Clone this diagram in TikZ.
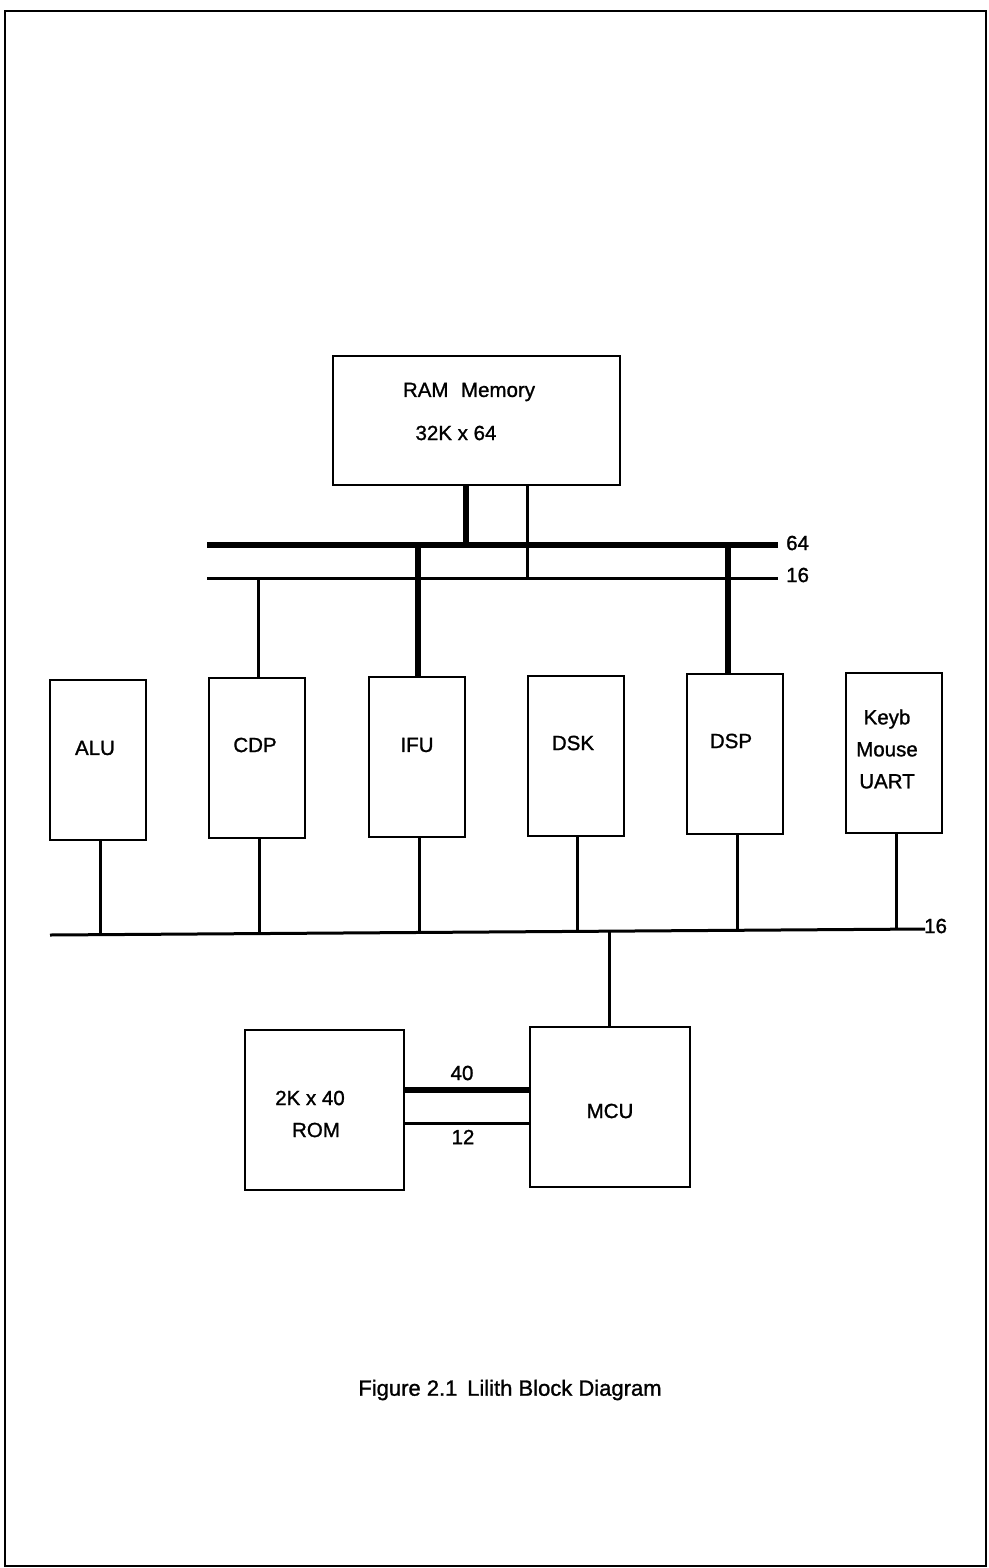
\documentclass[tikz,border=0pt]{standalone}
\usepackage{fontspec}
\setmainfont{Liberation Sans}[FakeBold=1.2]
\begin{document}
\begin{tikzpicture}[x=1pt,y=-1pt,
  blk/.style={draw,line width=2pt,minimum width=96pt,minimum height=160pt,inner sep=0pt},
  lbl/.style={inner sep=0pt,font=\fontsize{20.5}{32}\selectfont},
  thin/.style={line width=3pt},
  thick/.style={line width=6.5pt}]
\useasboundingbox (0,0) rectangle (988,1568);
\draw[line width=2.5pt] (5,11) rectangle (986,1566);
% RAM
\node[draw,line width=2pt,minimum width=287pt,minimum height=129pt,inner sep=0pt] (ram) at (476.5,420.5) {};
\node[lbl] (ramt) at (469,392) {RAM\,\, Memory};
\node[lbl] (ramt2) at (456,433) {32K x 64};
% buses
\coordinate (b64l) at (207,545);
\coordinate (b64r) at (778,545);
\coordinate (b16l) at (207,578);
\coordinate (b16r) at (778,578);
\draw[thick] (b64l) -- (b64r);
\draw[thin] (b16l) -- (b16r);
\node[lbl,anchor=west] (l64) at (786,543) {64};
\node[lbl,anchor=west] (l16) at (786,575) {16};
\draw[thick] (466,485) -- (466,545);
\draw[thin] (527,485) -- (527,578);
% modules
\node[blk] (alu) at (98,760) {};
\node[blk] (cdp) at (257,758) {};
\node[blk] (ifu) at (416.5,756.5) {};
\node[blk] (dsk) at (575.5,755.5) {};
\node[blk] (dsp) at (734.5,754) {};
\node[blk] (kbd) at (894,753) {};
\node[lbl] at (95,748) {ALU};
\node[lbl] at (255,745) {CDP};
\node[lbl] at (417,745) {IFU};
\node[lbl] at (573,743) {DSK};
\node[lbl] at (731,741) {DSP};
\node[lbl,align=center] at (887,749) {Keyb\\Mouse\\UART};
\draw[thin] (258,578) -- (cdp.north -| 258,0);
\draw[thick] (418,545) -- (ifu.north -| 418,0);
\draw[thick] (728,545) -- (dsp.north -| 728,0);
% lower bus
\coordinate (bl) at (50,935);
\coordinate (br) at (925,929);
\draw[thin] (bl) -- (br);
\node[lbl,anchor=west] (l16b) at (924,926) {16};
\foreach \n/\x/\y in {alu/100/935, cdp/259/934, ifu/419/933, dsk/577/932, dsp/737/931, kbd/896/929}
  \draw[thin] (\n.south -| \x,0) -- (\x,\y);
% ROM / MCU
\node[draw,line width=2pt,minimum width=159pt,minimum height=160pt,inner sep=0pt] (rom) at (324.5,1110) {};
\node[draw,line width=2pt,minimum width=160pt,minimum height=160pt,inner sep=0pt] (mcu) at (610,1107) {};
\draw[thin] (609,932) -- (mcu.north -| 609,0);
\node[lbl] at (310,1098) {2K x 40};
\node[lbl] at (316,1130) {ROM};
\node[lbl] at (610,1111) {MCU};
\draw[thick] (rom.east |- 0,1090) -- (mcu.west |- 0,1090);
\draw[thin] (rom.east |- 0,1123) -- (mcu.west |- 0,1123);
\node[lbl] at (462,1073) {40};
\node[lbl] at (463,1137) {12};
\node[inner sep=0pt,font=\fontsize{22}{26}\selectfont] (cap) at (510,1390) {Figure 2.1\, Lilith Block Diagram};
\end{tikzpicture}
\end{document}
